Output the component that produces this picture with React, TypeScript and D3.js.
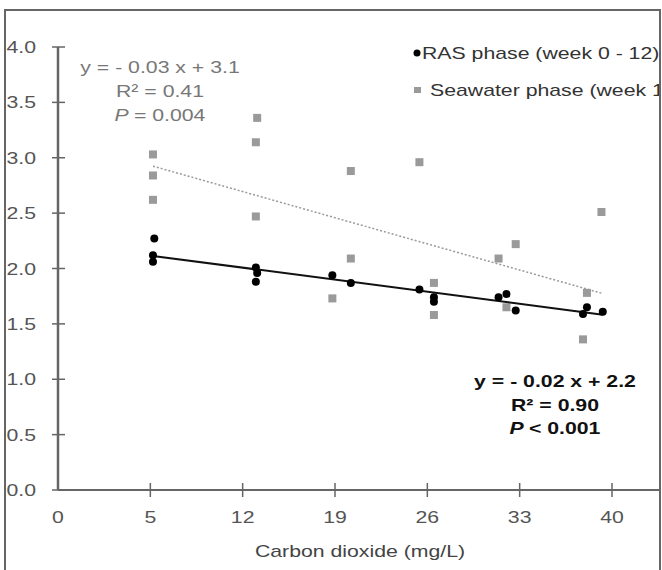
import React, { useEffect, useRef } from 'react';
import * as d3 from 'd3';

// axis ticks (the first tick sits at -2 on the scale but is printed as "0")
const xTickValues = [-2, 5, 12, 19, 26, 33, 40];
const xTickLabels = ['0', '5', '12', '19', '26', '33', '40'];
const yTickValues = [0, 0.5, 1, 1.5, 2, 2.5, 3, 3.5, 4];

// RAS phase (black circles)
const rasX = [5.3, 5.2, 5.2, 13.0, 13.1, 13.0, 18.8, 20.2, 25.4, 26.5, 26.5, 31.4, 32.0, 32.7, 38.1, 37.8, 39.3];
const rasY = [2.27, 2.12, 2.06, 2.01, 1.96, 1.88, 1.94, 1.87, 1.81, 1.74, 1.70, 1.74, 1.77, 1.62, 1.65, 1.59, 1.61];

// Seawater phase (grey squares)
const seaX = [5.2, 5.2, 5.2, 13.1, 13.0, 13.0, 20.2, 25.4, 20.2, 18.8, 26.5, 26.5, 31.4, 32.7, 32.0, 39.2, 38.1, 37.8];
const seaY = [3.03, 2.84, 2.62, 3.36, 3.14, 2.47, 2.88, 2.96, 2.09, 1.73, 1.87, 1.58, 2.09, 2.22, 1.65, 2.51, 1.78, 1.36];

const legendLabels = ['RAS phase (week 0 - 12)', 'Seawater phase (week 13 - 24)'];
const seaEquation = ['y = - 0.03 x + 3.1', 'R² = 0.41', '= 0.004'];
const rasEquation = ['y = - 0.02 x + 2.2', 'R² = 0.90', '< 0.001'];
const xTitle = 'Carbon dioxide (mg/L)';

const fit = (xs: number[], ys: number[]) => {
    const mx = d3.mean(xs) as number;
    const my = d3.mean(ys) as number;
    const sxy = d3.sum(xs, (x, i) => (x - mx) * (ys[i] - my));
    const sxx = d3.sum(xs, x => (x - mx) * (x - mx));
    const b = sxy / sxx;
    return { a: my - b * mx, b };
};

const App = () => {
    const ref = useRef<SVGSVGElement>(null);

    useEffect(() => {
        const svg = d3.select(ref.current);
        svg.selectAll('*').remove();

        const font = '"Liberation Sans", Arial, sans-serif';
        const stretch = 1.25; // the original lettering is wide

        const x = d3.scaleLinear().domain([-2, 40]).range([58, 612]);
        const y = d3.scaleLinear().domain([0, 4]).range([490, 47]);

        svg.append('defs').append('clipPath').attr('id', 'frame')
            .append('rect').attr('x', 5).attr('y', 10).attr('width', 655).attr('height', 600);

        const root = svg.append('g').attr('clip-path', 'url(#frame)');

        const text = (g: any, tx: number, ty: number, str: string, anchor: string, fill: string) =>
            g.append('text')
                .attr('transform', `translate(${tx},${ty}) scale(${stretch},1)`)
                .attr('text-anchor', anchor)
                .attr('font-family', font)
                .attr('font-size', 17)
                .attr('fill', fill)
                .text(str);

        // axes
        root.append('line').attr('x1', x(-2)).attr('x2', 660).attr('y1', y(0)).attr('y2', y(0))
            .attr('stroke', '#666').attr('stroke-width', 2);
        root.append('line').attr('x1', x(-2)).attr('x2', x(-2)).attr('y1', y(4)).attr('y2', y(0))
            .attr('stroke', '#666').attr('stroke-width', 2.5);

        root.selectAll('.xtick').data(xTickValues.slice(1)).enter().append('line')
            .attr('x1', d => x(d)).attr('x2', d => x(d))
            .attr('y1', y(0) - 7).attr('y2', y(0) + 7)
            .attr('stroke', '#666').attr('stroke-width', 1.5);
        root.selectAll('.ytick').data(yTickValues).enter().append('line')
            .attr('x1', x(-2) - 6).attr('x2', x(-2) + 7)
            .attr('y1', d => y(d)).attr('y2', d => y(d))
            .attr('stroke', '#666').attr('stroke-width', 1.5);

        xTickValues.forEach((d, i) => text(root, x(d), 523, xTickLabels[i], 'middle', '#555'));
        yTickValues.forEach(d => text(root, 36, y(d) + 6, d3.format('.1f')(d), 'end', '#555'));
        text(root, 360, 557, xTitle, 'middle', '#444');

        // regression lines
        const seaFit = fit(seaX, seaY);
        const rasFit = fit(rasX, rasY);
        const seaExt = d3.extent(seaX) as [number, number];
        const rasExt = d3.extent(rasX) as [number, number];

        root.append('line')
            .attr('x1', x(seaExt[0])).attr('y1', y(seaFit.a + seaFit.b * seaExt[0]))
            .attr('x2', x(seaExt[1])).attr('y2', y(seaFit.a + seaFit.b * seaExt[1]))
            .attr('stroke', '#999').attr('stroke-width', 1.5).attr('stroke-dasharray', '2,2');

        // points
        root.selectAll('.sea').data(seaX).enter().append('rect')
            .attr('x', d => x(d) - 4).attr('y', (_, i) => y(seaY[i]) - 4)
            .attr('width', 8).attr('height', 8).attr('fill', '#9a9a9a');

        root.append('line')
            .attr('x1', x(rasExt[0])).attr('y1', y(rasFit.a + rasFit.b * rasExt[0]))
            .attr('x2', x(rasExt[1])).attr('y2', y(rasFit.a + rasFit.b * rasExt[1]))
            .attr('stroke', '#111').attr('stroke-width', 2);

        root.selectAll('.ras').data(rasX).enter().append('circle')
            .attr('cx', d => x(d)).attr('cy', (_, i) => y(rasY[i]))
            .attr('r', 4).attr('fill', '#000');

        // legend
        root.append('circle').attr('cx', 417).attr('cy', 53).attr('r', 3.5).attr('fill', '#000');
        text(root, 422, 59, legendLabels[0], 'start', '#333');
        root.append('rect').attr('x', 414).attr('y', 87).attr('width', 7).attr('height', 6).attr('fill', '#9a9a9a');
        text(root, 430, 96, legendLabels[1], 'start', '#333');

        // equations
        const eq = (lines: string[], cx: number, top: number, gap: number, fill: string, weight: string) => {
            lines.forEach((l, i) => {
                const t = text(root, cx, top + i * gap, i === 2 ? '' : l, 'middle', fill).attr('font-weight', weight);
                if (i === 2) {
                    t.append('tspan').attr('font-style', 'italic').text('P ');
                    t.append('tspan').text(l);
                }
            });
        };
        eq(seaEquation, 160, 73, 24, '#777', 'normal');
        eq(rasEquation, 555, 387, 23.5, '#111', 'bold');

        // frame
        svg.append('rect').attr('x', 5).attr('y', 10).attr('width', 655).attr('height', 600)
            .attr('fill', 'none').attr('stroke', '#666').attr('stroke-width', 2);
    }, []);

    return (
        <svg ref={ref} width={662} height={570}
            style={{ position: 'absolute', left: 0, top: 0, background: '#fff' }} />
    );
};

export default App;
